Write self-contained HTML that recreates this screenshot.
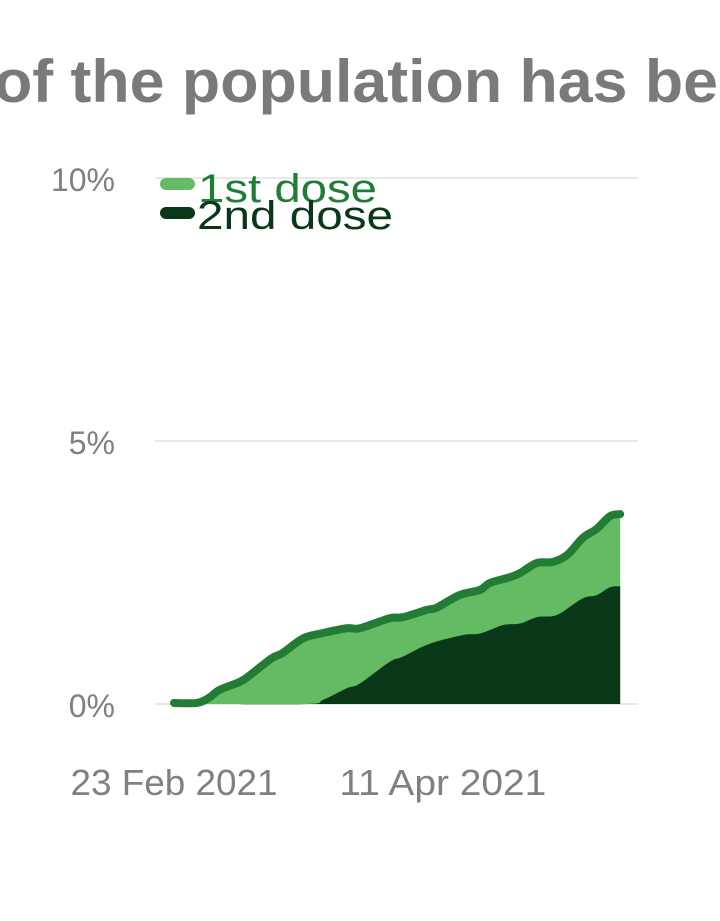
<!DOCTYPE html>
<html><head><meta charset="utf-8"><style>
html,body{margin:0;padding:0;background:#fff;width:720px;height:921px;overflow:hidden}
svg{display:block;font-family:"Liberation Sans",sans-serif}
</style></head><body>
<svg id="chart" width="720" height="921" viewBox="0 0 720 921">
<text x="-6" y="102" font-size="60" font-weight="bold" fill="#7a7a7a" textLength="724" lengthAdjust="spacingAndGlyphs">of the population has be</text>
<g id="grid"></g>
<g id="ylabels"></g>
<g id="series"></g>
<g id="xlabels"></g>
<g>
 <rect x="160" y="178" width="35" height="12" rx="6" fill="#66bb66"/>
 <text x="198" y="202" font-size="40" fill="#1f7d35" textLength="179" lengthAdjust="spacingAndGlyphs">1st dose</text>
 <rect x="160" y="207" width="35" height="12" rx="6" fill="#083818"/>
 <text x="197" y="229" font-size="40" fill="#083818" textLength="196" lengthAdjust="spacingAndGlyphs">2nd dose</text>
</g>
</svg>
<script>
// days since 23 Feb 2021, percent of population
const firstDays = [0,4,6,8,11.5,13.3,17.1,19,22.6,26.1,30.2,32.5,37.7,40,44.2,45.9,49.9,53.5,55.2,58.7,60.5,63.4,66.2,68.7,71.5,73.9,76.2,78];
const firstVals = [0.02,0.02,0.11,0.27,0.42,0.55,0.87,0.97,1.25,1.35,1.44,1.44,1.63,1.65,1.79,1.83,2.07,2.17,2.30,2.41,2.49,2.68,2.70,2.83,3.16,3.33,3.57,3.61];
const secondDays = [6,23.3,26.1,30.2,32.5,37.7,40,44.8,50.5,53.5,57.5,60.5,63.4,66.2,67.9,71.5,73.9,76.2,78];
const secondVals = [0,0,0.08,0.30,0.39,0.80,0.90,1.15,1.31,1.34,1.50,1.53,1.65,1.67,1.75,2.01,2.07,2.22,2.24];
const yTicks = [0,5,10];
const yTickLabels = ["0%","5%","10%"];
const xTickDays = [0,47];
const xTickLabels = ["23 Feb 2021","11 Apr 2021"];

const NS="http://www.w3.org/2000/svg";
const xs = d => 174 + d*5.72;
const ys = v => 704 - v*52.6;
function mk(tag, attrs, parent){const e=document.createElementNS(NS,tag);for(const k in attrs)e.setAttribute(k,attrs[k]);parent.appendChild(e);return e;}
const grid=document.getElementById('grid'), yl=document.getElementById('ylabels'), xl=document.getElementById('xlabels'), ser=document.getElementById('series');
yTicks.forEach((t,i)=>{
  const l=mk('line',{x1:155,x2:638,y1:ys(t),y2:ys(t),stroke:'#e2e2e2','stroke-width':1.5},grid);
  
  
  const tx=mk('text',{x:115,y:ys(t)+13,'text-anchor':'end','font-size':32,fill:'#808080'},yl);
  tx.textContent=yTickLabels[i];
  
  
});
xTickDays.forEach((d,i)=>{
  const tx=mk('text',{x:xs(d),y:795,'text-anchor':'middle','font-size':36,fill:'#808080',textLength:207,lengthAdjust:'spacingAndGlyphs'},xl);
  tx.textContent=xTickLabels[i];
  
  
});
function smoothPath(px,py){
  let d='M'+px[0]+','+py[0];
  const n=px.length;
  for(let i=0;i<n-1;i++){
    const p0=i>0?i-1:i, p3=i+2<n?i+2:i+1;
    const c1x=px[i]+(px[i+1]-px[p0])/6, c1y=py[i]+(py[i+1]-py[p0])/6;
    const c2x=px[i+1]-(px[p3]-px[i])/6, c2y=py[i+1]-(py[p3]-py[i])/6;
    d+=' C'+c1x+','+c1y+' '+c2x+','+c2y+' '+px[i+1]+','+py[i+1];
  }
  return d;
}
const fx=firstDays.map(xs), fy=firstVals.map(ys);
const sx=secondDays.map(xs), sy=secondVals.map(ys);
const lineD=smoothPath(fx,fy);
const a1=mk('path',{d:lineD+' L'+fx[fx.length-1]+','+ys(0)+' L'+fx[0]+','+ys(0)+' Z',fill:'#64bb64'},ser);


const a2=mk('path',{d:smoothPath(sx,sy)+' L'+sx[sx.length-1]+','+ys(0)+' L'+sx[0]+','+ys(0)+' Z',fill:'#083818'},ser);


const ln=mk('path',{d:lineD,fill:'none',stroke:'#227c34','stroke-width':8,'stroke-linecap':'round','stroke-linejoin':'round'},ser);


</script>
</body></html>
